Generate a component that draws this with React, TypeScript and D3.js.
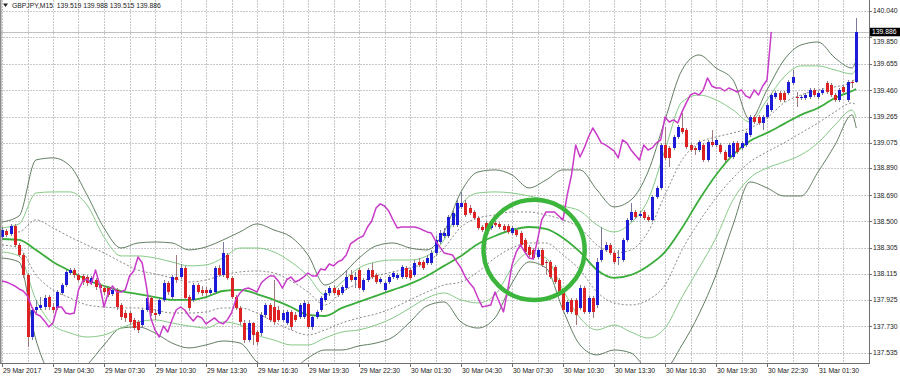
import React from 'react';
import * as d3 from 'd3';

const yTickValues = [140.04, 139.85, 139.655, 139.46, 139.265, 139.075, 138.89, 138.69, 138.5, 138.305, 138.115, 137.925, 137.73, 137.535];
const xTickBars = [0, 12, 24, 36, 48, 60, 72, 84, 96, 108, 120, 132, 144, 156, 168, 180, 192];
const xTickLabels = ['29 Mar 2017', '29 Mar 04:30', '29 Mar 07:30', '29 Mar 10:30', '29 Mar 13:30', '29 Mar 16:30', '29 Mar 19:30', '29 Mar 22:30', '30 Mar 01:30', '30 Mar 04:30', '30 Mar 07:30', '30 Mar 10:30', '30 Mar 13:30', '30 Mar 16:30', '30 Mar 19:30', '30 Mar 22:30', '31 Mar 01:30'];
const headerText = 'GBPJPY,M15  139.519 139.988 139.515 139.886';
const bidPrice = 139.886;

const candleOpen = [
  138.385, 138.429, 138.407, 138.466, 138.326, 138.253, 138.107, 137.652, 137.850, 137.865,
  137.872, 137.945, 137.872, 137.865, 137.975, 138.033, 138.121, 138.143, 138.107, 138.099,
  138.092, 138.048, 138.070, 138.033, 138.011, 138.011, 137.967, 137.997, 137.887, 137.828,
  137.828, 137.777, 137.762, 137.740, 137.850, 137.938, 137.828, 137.821, 137.924, 138.048,
  137.945, 138.092, 138.092, 138.158, 137.945, 137.924, 138.033, 137.997, 137.997, 137.975,
  137.982, 138.158, 138.107, 138.253, 138.085, 137.945, 137.865, 137.755, 137.630, 137.755,
  137.689, 137.682, 137.814, 137.887, 137.872, 137.850, 137.777, 137.755, 137.836, 137.814,
  137.799, 137.799, 137.894, 137.726, 137.799, 137.850, 137.924, 137.975, 138.011, 137.997,
  137.975, 138.011, 138.107, 138.070, 138.143, 137.997, 138.070, 138.143, 138.107, 138.055,
  137.997, 138.055, 138.092, 138.085, 138.092, 138.158, 138.143, 138.107, 138.202, 138.202,
  138.194, 138.194, 138.268, 138.348, 138.392, 138.392, 138.473, 138.473, 138.605, 138.634,
  138.597, 138.568, 138.524, 138.458, 138.488, 138.451, 138.488, 138.480, 138.466, 138.466,
  138.414, 138.436, 138.414, 138.363, 138.312, 138.290, 138.238, 138.290, 138.202, 138.202,
  138.165, 138.070, 137.982, 137.836, 137.924, 137.924, 137.865, 138.011, 137.836, 137.938,
  137.887, 138.216, 138.290, 138.326, 138.268, 138.231, 138.216, 138.363, 138.510, 138.568,
  138.539, 138.568, 138.531, 138.510, 138.678, 138.744, 139.059, 139.037, 139.037, 139.117,
  139.183, 139.169, 139.059, 139.037, 139.022, 139.059, 138.949, 139.081, 139.059, 139.059,
  139.008, 138.971, 138.971, 139.074, 139.037, 139.059, 139.132, 139.264, 139.264, 139.220,
  139.264, 139.315, 139.410, 139.440, 139.440, 139.440, 139.513, 139.410, 139.403, 139.403,
  139.410, 139.462, 139.410, 139.440, 139.513, 139.498, 139.425, 139.389, 139.484, 139.389,
  139.522, 139.519,
];
const candleClose = [
  138.436, 138.400, 138.466, 138.326, 138.253, 138.107, 137.652, 137.850, 137.872, 137.887,
  137.938, 137.872, 137.850, 137.982, 138.033, 138.129, 138.143, 138.107, 138.070, 138.055,
  138.048, 138.085, 138.019, 138.011, 137.982, 137.960, 137.997, 137.872, 137.799, 137.792,
  137.762, 137.718, 137.704, 137.850, 137.938, 137.828, 137.814, 137.924, 138.048, 137.982,
  138.092, 138.070, 138.158, 137.938, 137.865, 138.033, 137.982, 137.975, 137.975, 137.997,
  138.158, 138.107, 138.268, 138.085, 137.945, 137.865, 137.762, 137.630, 137.755, 137.667,
  137.616, 137.814, 137.887, 137.777, 137.762, 137.777, 137.828, 137.836, 137.726, 137.777,
  137.887, 137.902, 137.726, 137.799, 137.836, 137.938, 137.975, 138.011, 137.975, 137.960,
  138.019, 138.092, 138.070, 138.092, 138.011, 138.070, 138.143, 138.092, 138.055, 138.077,
  138.048, 138.092, 138.121, 138.107, 138.165, 138.092, 138.085, 138.194, 138.180, 138.158,
  138.231, 138.268, 138.363, 138.414, 138.414, 138.531, 138.561, 138.634, 138.634, 138.546,
  138.561, 138.524, 138.451, 138.436, 138.400, 138.488, 138.473, 138.458, 138.436, 138.422,
  138.451, 138.400, 138.326, 138.275, 138.253, 138.231, 138.290, 138.180, 138.194, 138.092,
  138.055, 137.975, 137.850, 137.909, 137.836, 137.814, 138.011, 137.836, 137.938, 137.836,
  138.202, 138.290, 138.326, 138.268, 138.202, 138.238, 138.363, 138.510, 138.568, 138.531,
  138.553, 138.524, 138.510, 138.678, 138.744, 139.059, 138.964, 138.964, 139.117, 139.191,
  139.154, 139.044, 139.022, 139.022, 139.081, 138.949, 139.081, 139.059, 139.096, 139.008,
  138.949, 139.059, 139.074, 139.008, 139.074, 139.147, 139.264, 139.227, 139.220, 139.264,
  139.352, 139.425, 139.440, 139.389, 139.389, 139.520, 139.557, 139.403, 139.410, 139.425,
  139.462, 139.425, 139.440, 139.462, 139.447, 139.425, 139.389, 139.462, 139.447, 139.520,
  139.518, 139.886,
];
const candleHigh = [
  138.458, 138.444, 138.480, 138.480, 138.341, 138.268, 138.121, 137.872, 137.924, 137.945,
  137.960, 137.960, 137.902, 137.997, 138.048, 138.143, 138.158, 138.158, 138.121, 138.114,
  138.107, 138.099, 138.085, 138.048, 138.033, 138.026, 138.011, 138.011, 137.902, 137.850,
  137.843, 137.792, 137.777, 137.865, 137.960, 137.953, 137.858, 137.938, 138.070, 138.063,
  138.107, 138.253, 138.187, 138.173, 137.960, 138.048, 138.048, 138.026, 138.019, 138.011,
  138.173, 138.180, 138.348, 138.268, 138.099, 137.960, 137.880, 137.777, 137.777, 137.762,
  137.704, 137.836, 137.902, 137.902, 138.070, 137.880, 137.850, 137.850, 137.850, 137.836,
  137.902, 137.924, 137.909, 137.814, 137.850, 137.953, 137.997, 138.026, 138.033, 138.011,
  138.033, 138.143, 138.143, 138.129, 138.158, 138.085, 138.158, 138.194, 138.121, 138.092,
  138.063, 138.107, 138.136, 138.121, 138.180, 138.173, 138.158, 138.216, 138.231, 138.216,
  138.253, 138.290, 138.392, 138.436, 138.451, 138.546, 138.583, 138.656, 138.715, 138.656,
  138.619, 138.583, 138.539, 138.473, 138.502, 138.510, 138.502, 138.495, 138.480, 138.480,
  138.466, 138.451, 138.429, 138.378, 138.326, 138.304, 138.304, 138.304, 138.216, 138.216,
  138.180, 138.085, 137.997, 137.924, 137.938, 137.938, 138.033, 138.026, 137.953, 137.953,
  138.231, 138.458, 138.348, 138.341, 138.282, 138.290, 138.378, 138.524, 138.634, 138.583,
  138.575, 138.583, 138.546, 138.693, 138.759, 139.074, 139.191, 139.052, 139.132, 139.205,
  139.293, 139.183, 139.074, 139.052, 139.096, 139.074, 139.096, 139.169, 139.110, 139.074,
  139.022, 139.074, 139.088, 139.088, 139.088, 139.161, 139.279, 139.279, 139.279, 139.279,
  139.367, 139.440, 139.454, 139.454, 139.454, 139.535, 139.608, 139.447, 139.425, 139.440,
  139.476, 139.476, 139.454, 139.476, 139.528, 139.513, 139.440, 139.476, 139.498, 139.535,
  139.535, 139.988,
];
const candleLow = [
  138.363, 138.385, 138.392, 138.312, 138.238, 138.085, 137.579, 137.630, 137.828, 137.850,
  137.850, 137.850, 137.828, 137.850, 137.960, 138.019, 138.107, 138.085, 138.055, 138.033,
  138.026, 138.033, 137.997, 137.982, 137.960, 137.945, 137.953, 137.850, 137.777, 137.762,
  137.740, 137.704, 137.682, 137.718, 137.836, 137.806, 137.777, 137.806, 137.909, 137.960,
  137.931, 138.048, 138.077, 137.924, 137.843, 137.909, 137.967, 137.953, 137.953, 137.960,
  137.967, 138.092, 138.092, 138.070, 137.931, 137.850, 137.740, 137.608, 137.616, 137.594,
  137.594, 137.660, 137.792, 137.762, 137.740, 137.762, 137.762, 137.740, 137.704, 137.762,
  137.784, 137.784, 137.711, 137.704, 137.784, 137.836, 137.909, 137.953, 137.960, 137.945,
  137.960, 137.997, 138.055, 138.011, 137.997, 137.982, 138.055, 138.077, 138.041, 138.041,
  137.982, 138.041, 138.077, 138.070, 138.077, 138.077, 138.070, 138.092, 138.165, 138.143,
  138.180, 138.180, 138.246, 138.334, 138.378, 138.378, 138.458, 138.458, 138.590, 138.531,
  138.546, 138.510, 138.436, 138.422, 138.385, 138.436, 138.458, 138.444, 138.422, 138.407,
  138.400, 138.385, 138.312, 138.260, 138.238, 138.216, 138.224, 138.165, 138.107, 138.077,
  138.041, 137.960, 137.836, 137.821, 137.821, 137.740, 137.850, 137.821, 137.821, 137.792,
  137.865, 138.202, 138.275, 138.253, 138.187, 138.180, 138.202, 138.348, 138.495, 138.517,
  138.524, 138.510, 138.495, 138.495, 138.663, 138.729, 138.949, 138.898, 139.022, 139.103,
  139.139, 139.030, 139.008, 138.986, 139.008, 138.934, 138.934, 139.044, 139.044, 138.993,
  138.934, 138.956, 138.956, 138.993, 139.022, 139.044, 139.117, 139.213, 139.205, 139.169,
  139.249, 139.301, 139.396, 139.374, 139.374, 139.425, 139.498, 139.337, 139.389, 139.389,
  139.396, 139.410, 139.396, 139.425, 139.432, 139.410, 139.374, 139.374, 139.432, 139.374,
  139.476, 139.515,
];

const bandBars = [0, 4, 8, 12, 16, 20, 24, 28, 32, 36, 40, 44, 48, 52, 56, 60, 64, 68, 72, 76, 80, 84, 88, 92, 96, 100, 104, 108, 112, 116, 120, 124, 128, 132, 136, 140, 144, 148, 152, 156, 160, 164, 168, 172, 176, 180, 184, 188, 192, 196, 200, 201];
const bandMiddle = [138.370, 138.363, 138.290, 138.202, 138.136, 138.070, 138.026, 137.989, 137.967, 137.945, 137.924, 137.924, 137.945, 137.989, 137.997, 137.967, 137.924, 137.872, 137.814, 137.806, 137.865, 137.909, 137.953, 137.997, 138.041, 138.099, 138.173, 138.246, 138.334, 138.392, 138.436, 138.458, 138.444, 138.378, 138.275, 138.143, 138.085, 138.107, 138.173, 138.275, 138.451, 138.656, 138.839, 138.986, 139.088, 139.147, 139.213, 139.279, 139.330, 139.403, 139.454, 139.469];
const bandUpper1 = [138.414, 138.422, 138.510, 138.451, 138.385, 138.326, 138.268, 138.202, 138.143, 138.114, 138.085, 138.055, 138.070, 138.107, 138.129, 138.136, 138.121, 138.063, 137.982, 137.887, 137.982, 138.048, 138.099, 138.129, 138.158, 138.202, 138.304, 138.458, 138.524, 138.546, 138.568, 138.568, 138.546, 138.510, 138.451, 138.326, 138.268, 138.290, 138.422, 138.693, 138.949, 139.074, 139.117, 139.147, 139.183, 139.257, 139.367, 139.425, 139.462, 139.484, 139.520, 139.550];
const bandUpper2 = [138.451, 138.480, 138.707, 138.715, 138.715, 138.619, 138.385, 138.246, 138.246, 138.231, 138.202, 138.173, 138.180, 138.231, 138.304, 138.304, 138.275, 138.202, 138.099, 137.960, 138.055, 138.158, 138.202, 138.216, 138.216, 138.246, 138.363, 138.619, 138.707, 138.715, 138.707, 138.685, 138.656, 138.612, 138.575, 138.473, 138.422, 138.488, 138.656, 139.022, 139.374, 139.425, 139.389, 139.315, 139.227, 139.389, 139.557, 139.638, 139.638, 139.608, 139.579, 139.623];
const bandUpper3 = [138.495, 138.539, 138.949, 138.964, 138.905, 138.693, 138.451, 138.304, 138.341, 138.348, 138.341, 138.290, 138.312, 138.363, 138.422, 138.480, 138.436, 138.385, 138.253, 138.033, 138.107, 138.231, 138.319, 138.341, 138.304, 138.290, 138.422, 138.715, 138.861, 138.876, 138.839, 138.744, 138.802, 138.876, 138.876, 138.729, 138.605, 138.656, 138.861, 139.242, 139.608, 139.718, 139.623, 139.535, 139.242, 139.462, 139.681, 139.791, 139.813, 139.696, 139.623, 139.681];
const bandLower1 = [138.326, 138.304, 138.107, 137.997, 137.938, 137.887, 137.872, 137.865, 137.865, 137.850, 137.828, 137.828, 137.836, 137.865, 137.865, 137.828, 137.762, 137.704, 137.667, 137.704, 137.755, 137.792, 137.821, 137.865, 137.924, 137.982, 138.033, 138.055, 138.129, 138.231, 138.304, 138.341, 138.341, 138.253, 138.143, 137.982, 137.902, 137.887, 137.924, 138.033, 138.290, 138.495, 138.671, 138.817, 138.934, 139.008, 139.074, 139.147, 139.220, 139.301, 139.367, 139.352];
const bandLower2 = [138.275, 138.246, 137.924, 137.740, 137.682, 137.652, 137.667, 137.718, 137.762, 137.777, 137.755, 137.733, 137.718, 137.762, 137.740, 137.667, 137.630, 137.594, 137.594, 137.645, 137.689, 137.704, 137.740, 137.792, 137.865, 137.938, 137.975, 137.924, 137.902, 137.960, 138.158, 138.268, 138.231, 137.997, 137.792, 137.704, 137.740, 137.689, 137.645, 137.718, 137.945, 138.158, 138.378, 138.656, 138.817, 138.890, 138.934, 138.986, 139.074, 139.205, 139.315, 139.257];
const bandLower3 = [138.231, 138.202, 137.630, 137.374, 137.352, 137.447, 137.594, 137.718, 137.726, 137.682, 137.608, 137.572, 137.594, 137.623, 137.608, 137.469, 137.396, 137.410, 137.499, 137.557, 137.557, 137.587, 137.608, 137.652, 137.762, 137.880, 137.909, 137.762, 137.718, 137.792, 138.048, 138.202, 138.158, 137.850, 137.594, 137.521, 137.557, 137.535, 137.425, 137.425, 137.594, 137.821, 138.107, 138.473, 138.788, 138.744, 138.685, 138.685, 138.861, 139.059, 139.279, 139.183];

const overlaySeries = [
  138.063, 138.055, 138.041, 138.026, 138.004, 137.989, 137.953, 137.872, 137.821, 137.806,
  137.770, 137.726, 137.755, 137.872, 137.872, 137.828, 137.821, 137.828, 137.997, 138.063,
  138.077, 138.041, 138.143, 138.033, 137.872, 137.975, 138.026, 137.982, 137.982, 137.997,
  138.099, 138.136, 138.238, 138.194, 138.019, 137.792, 137.704, 137.652, 137.733, 137.689,
  137.777, 137.850, 137.872, 137.850, 137.806, 137.770, 137.806, 137.792, 137.748, 137.770,
  137.792, 137.762, 137.748, 137.777, 137.828, 137.924, 137.975, 138.004, 138.011, 137.997,
  137.982, 138.048, 138.077, 138.099, 138.099, 138.063, 138.011, 138.070, 138.092, 138.055,
  138.070, 138.092, 138.121, 138.099, 138.099, 138.151, 138.143, 138.187, 138.173, 138.202,
  138.216, 138.253, 138.334, 138.356, 138.378, 138.392, 138.458, 138.502, 138.597, 138.627,
  138.612, 138.575, 138.510, 138.451, 138.458, 138.458, 138.458, 138.458, 138.451, 138.436,
  138.422, 138.414, 138.356, 138.312, 138.268, 138.260, 138.253, 138.202, 138.158, 138.092,
  138.048, 138.011, 137.938, 137.872, 137.880, 137.887, 137.982, 137.909, 137.836, 137.997,
  138.180, 138.275, 138.326, 138.275, 138.231, 138.224, 138.363, 138.510, 138.568, 138.568,
  138.568, 138.539, 138.510, 138.693, 138.839, 139.059, 138.971, 139.037, 139.117, 139.183,
  139.132, 139.074, 139.059, 139.037, 139.015, 138.964, 139.096, 139.074, 139.022, 138.986,
  138.949, 139.059, 139.022, 139.037, 139.074, 139.096, 139.264, 139.227, 139.242, 139.220,
  139.301, 139.367, 139.425, 139.440, 139.425, 139.462, 139.550, 139.491, 139.476, 139.476,
  139.454, 139.476, 139.462, 139.447, 139.462, 139.418, 139.403, 139.462, 139.425, 139.491,
  139.535, 139.887,
];

// annotation circle (bar index / price centre, radii in bars / price)
const circleCenterBar = 125.2;
const circleCenterPrice = 138.29;
const circleRadiusBars = 11.9;
const circleRadiusPrice = 0.367;

const FONT = '"Liberation Sans", Arial, sans-serif';

export default function App() {
  const plotRight = 869;
  const plotBottom = 363;
  const x = d3.scaleLinear().domain([0, 201]).range([2, 856.25]);
  const y = d3.scaleLinear().domain([137.535, 140.04]).range([353, 11]);

  const bandLine = (vals: number[]) =>
    d3.line<number>().x((_, i) => x(bandBars[i])).y((v) => y(v)).curve(d3.curveMonotoneX)(vals) || '';
  const overlayPath =
    d3.line<number>().x((_, i) => x(i)).y((v) => y(v))(overlaySeries) || '';

  const gridBars = d3.range(0, 202, 6);
  const bidY = y(bidPrice);

  return (
    <svg width={900} height={377} style={{ position: 'absolute', left: 0, top: 0, background: '#fff' }}>
      <defs>
        <clipPath id="plotClip">
          <rect x={0} y={0} width={plotRight} height={plotBottom} />
        </clipPath>
      </defs>
      <rect x={0} y={0} width={900} height={377} fill="#fff" />
      {/* grid */}
      <g stroke="#c8c8c8" strokeWidth={1} strokeDasharray="1.5,1.5" shapeRendering="crispEdges">
        {yTickValues.map((v) => (
          <line key={'h' + v} x1={0} x2={plotRight} y1={Math.round(y(v)) + 0.5} y2={Math.round(y(v)) + 0.5} />
        ))}
        {gridBars.map((b) => (
          <line key={'v' + b} x1={Math.round(x(b)) + 0.5} x2={Math.round(x(b)) + 0.5} y1={0} y2={plotBottom} />
        ))}
      </g>
      {/* bid line */}
      <line x1={0} x2={plotRight} y1={Math.round(bidY) + 0.5} y2={Math.round(bidY) + 0.5} stroke="#c0c0c0" strokeWidth={1} />
      <g clipPath="url(#plotClip)" fill="none">
        <path d={bandLine(bandUpper3)} stroke="#4f6f4f" strokeWidth={0.9} />
        <path d={bandLine(bandLower3)} stroke="#4f6f4f" strokeWidth={0.9} />
        <path d={bandLine(bandUpper2)} stroke="#86c986" strokeWidth={1} />
        <path d={bandLine(bandLower2)} stroke="#86c986" strokeWidth={1} />
        <path d={bandLine(bandUpper1)} stroke="#6a6a6a" strokeWidth={0.8} strokeDasharray="2,2" />
        <path d={bandLine(bandLower1)} stroke="#6a6a6a" strokeWidth={0.8} strokeDasharray="2,2" />
        <path d={bandLine(bandMiddle)} stroke="#3aad3a" strokeWidth={1.8} />
        {/* candles */}
        <g shapeRendering="crispEdges">
          {candleOpen.map((o, i) => {
            const c = candleClose[i];
            const up = c >= o;
            const cx = Math.round(x(i));
            const top = Math.round(y(Math.max(o, c)));
            const bot = Math.round(y(Math.min(o, c)));
            const col = up ? '#1c1cd8' : '#dc2222';
            return (
              <g key={i}>
                <line x1={cx + 0.5} x2={cx + 0.5} y1={y(candleHigh[i])} y2={y(candleLow[i])} stroke={up ? '#7a7a9a' : '#a07a7a'} strokeWidth={1} />
                <rect x={cx - 1} y={top} width={3} height={Math.max(1, bot - top)} fill={col} />
              </g>
            );
          })}
        </g>
        <path d={overlayPath} stroke="#c93ac9" strokeWidth={1.5} strokeLinejoin="round" />
        <ellipse
          cx={x(circleCenterBar)}
          cy={y(circleCenterPrice)}
          rx={x(circleCenterBar + circleRadiusBars) - x(circleCenterBar)}
          ry={y(circleCenterPrice - circleRadiusPrice) - y(circleCenterPrice)}
          stroke="#3cb53c"
          strokeWidth={4.5}
          fill="none"
        />
      </g>
      {/* frame */}
      <rect x={0} y={0} width={1.5} height={plotBottom} fill="#8a8a8a" />
      <line x1={plotRight + 0.5} x2={plotRight + 0.5} y1={0} y2={plotBottom + 1} stroke="#707070" strokeWidth={1} />
      <line x1={0} x2={plotRight + 1} y1={plotBottom + 0.5} y2={plotBottom + 0.5} stroke="#707070" strokeWidth={1} />
      {/* y axis */}
      <g fontFamily={FONT} fontSize={6.8} fill="#222">
        {yTickValues.map((v) => {
          const ty = y(v);
          // keep the label just clear of the bid-price box
          const labelY = Math.abs(ty - bidY) < 9 ? bidY + 9.5 : ty;
          return (
            <g key={'yt' + v}>
              <line x1={plotRight} x2={plotRight + 3} y1={Math.round(ty) + 0.5} y2={Math.round(ty) + 0.5} stroke="#707070" />
              <text x={873} y={labelY} dy="0.35em">{v.toFixed(3)}</text>
            </g>
          );
        })}
      </g>
      {/* bid label */}
      <rect x={870} y={bidY - 4.25} width={30} height={8.5} fill="#000" />
      <text x={872} y={bidY} dy="0.35em" fontFamily={FONT} fontSize={6.8} fill="#fff">{bidPrice.toFixed(3)}</text>
      {/* x axis */}
      <g fontFamily={FONT} fontSize={6.8} fill="#222">
        {xTickBars.map((b, i) => (
          <g key={'xt' + b}>
            <line x1={Math.round(x(b)) + 0.5} x2={Math.round(x(b)) + 0.5} y1={plotBottom} y2={plotBottom + 4} stroke="#707070" />
            <text x={x(b) + 1} y={373}>{xTickLabels[i]}</text>
          </g>
        ))}
      </g>
      {/* header */}
      <path d="M3,3.5 L8,3.5 L5.5,7 Z" fill="#222" />
      <text x={12} y={8} fontFamily={FONT} fontSize={6.8} fill="#222" style={{ whiteSpace: 'pre' }}>{headerText}</text>
    </svg>
  );
}
